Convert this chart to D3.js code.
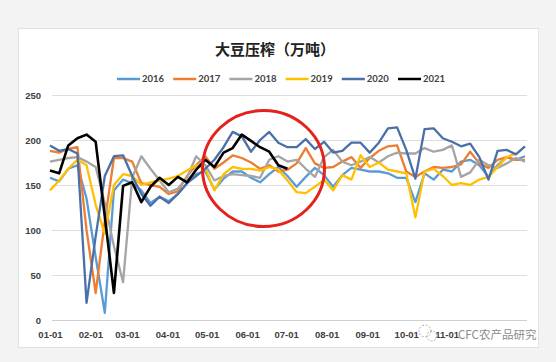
<!DOCTYPE html>
<html>
  <head>
    <meta charset="utf-8" />
    <title>大豆压榨（万吨）</title>
    <style>
      body{
        margin: 0;
        background: #f3f3f3;
        font-family: 'Lato', 'Noto Sans CJK SC', sans-serif;
      }
      .tick-label{
        font-size: 9.5px;
        font-weight: bold;
        fill: #404040;
      }
    </style>
  </head>
  <body>
    <script src="https://d3js.org/d3.v7.min.js"></script>
    <svg id="chart"></svg>
    <script>
      var width = 556;
      var height = 362;

      // weekly data, one array per year
      var years = ["2016", "2017", "2018", "2019", "2020", "2021"];
      var colors = ["#5b9bd5", "#ed7d31", "#a5a5a5", "#ffc000", "#4a6fa9", "#000000"];

      var s2016 = [158,154,168,172,135,70,8,144,156,152,144,130,137,132,140,152,162,165,145,157,165,165,158,153,162,170,160,148,159,169,161,148,161,169,167,165,165,163,158,158,131,163,156,167,165,176,178,172,159,172,181,178,182];
      var s2017 = [188,186,190,192,100,30,110,180,180,176,152,150,148,140,143,160,172,182,168,175,183,180,175,168,172,165,167,174,191,174,169,170,176,181,169,180,188,193,194,165,159,165,170,169,170,173,187,174,169,178,181,178,178];
      var s2018 = [176,178,180,181,176,170,130,82,42,158,182,168,155,142,146,158,182,172,155,160,162,161,160,158,178,182,176,178,168,159,181,189,176,172,176,181,175,182,186,185,185,191,187,189,194,159,164,178,172,169,174,180,176];
      var s2019 = [144,155,168,178,172,128,96,150,162,160,150,153,155,157,160,166,172,168,144,162,170,168,168,166,170,167,155,142,141,148,156,144,161,156,183,170,175,167,165,163,114,165,168,160,150,152,150,156,159,170,181,185];
      var s2020 = [194,188,190,185,19,93,160,182,183,160,140,127,137,130,140,152,160,168,178,192,209,204,187,200,209,197,192,192,201,190,198,186,188,197,197,186,197,213,214,189,157,212,213,202,198,193,196,181,156,188,189,184,193];
      var s2021 = [166,163,194,202,206,198,115,30,149,153,131,148,158,150,159,153,167,178,170,186,191,206,199,192,187,172,168];
      var allSeries = [s2016, s2017, s2018, s2019, s2020, s2021];

      var yTicks = [0, 50, 100, 150, 200, 250];
      // 12-01 is hidden under the watermark in the original
      var monthTicks = ["01-01","02-01","03-01","04-01","05-01","06-01","07-01","08-01","09-01","10-01","11-01"];

      var svg = d3.select("#chart")
        .attr("width", width)
        .attr("height", height)
        .style("display", "block");

      svg.append("rect")
        .attr("x", 18.5)
        .attr("y", 28.5)
        .attr("width", 520)
        .attr("height", 319)
        .attr("fill", "white")
        .attr("stroke", "#e2e2e2");

      var parse = d3.timeParse("%Y-%m-%d");
      var start = parse("2021-01-01");

      var x = d3.scaleTime()
        .domain([start, parse("2021-12-31")])
        .range([50, 525]);

      var y = d3.scaleLinear()
        .domain([0, 250])
        .range([320, 95]);

      // grid
      svg.append("g")
        .selectAll("line")
        .data(yTicks)
        .enter()
        .append("line")
        .attr("x1", 52)
        .attr("x2", 527)
        .attr("y1", function (d) { return Math.round(y(d)) + 0.5; })
        .attr("y2", function (d) { return Math.round(y(d)) + 0.5; })
        .attr("stroke", function (d) { return d === 0 ? "#cfcfcf" : "#dedede"; })
        .attr("stroke-width", 1);

      var yAxis = d3.axisLeft(y).tickValues(yTicks).tickSize(0).tickPadding(0);
      svg.append("g")
        .attr("transform", "translate(41,0)")
        .call(yAxis)
        .call(function (g) { g.select(".domain").remove(); })
        .selectAll("text")
        .attr("class", "tick-label")
        .attr("font-family", null)
        .attr("font-size", null);

      var monthDates = monthTicks.map(function (m) { return parse("2021-" + m); });
      var xAxis = d3.axisBottom(x)
        .tickValues(monthDates)
        .tickFormat(d3.timeFormat("%m-%d"))
        .tickSize(0)
        .tickPadding(0);
      svg.append("g")
        .attr("transform", "translate(0,331)")
        .call(xAxis)
        .call(function (g) { g.select(".domain").remove(); })
        .selectAll("text")
        .attr("class", "tick-label")
        .attr("font-family", null)
        .attr("font-size", null);

      // lines
      var line = d3.line()
        .x(function (d, i) { return x(d3.timeDay.offset(start, i * 7)); })
        .y(function (d) { return y(d); });

      svg.append("g")
        .selectAll("path")
        .data(allSeries)
        .enter()
        .append("path")
        .attr("d", line)
        .attr("fill", "none")
        .attr("stroke", function (d, i) { return colors[i]; })
        .attr("stroke-width", function (d, i) { return i === 5 ? 2.6 : 2.3; })
        .attr("stroke-linejoin", "round");

      // title
      svg.append("text")
        .attr("x", 275)
        .attr("y", 55)
        .attr("text-anchor", "middle")
        .attr("font-family", "'Noto Sans CJK SC', sans-serif")
        .attr("font-weight", "bold")
        .attr("font-size", 15)
        .attr("fill", "#222")
        .text("大豆压榨（万吨）");

      // legend
      var legend = svg.append("g")
        .selectAll("g")
        .data(years)
        .enter()
        .append("g")
        .attr("transform", function (d, i) { return "translate(" + (117 + i * 56.2) + ",79)"; });

      legend.append("line")
        .attr("x1", 0)
        .attr("x2", 23)
        .attr("stroke", function (d, i) { return colors[i]; })
        .attr("stroke-width", 2.5);

      legend.append("text")
        .attr("class", "tick-label")
        .attr("x", 25)
        .attr("dy", "0.35em")
        .text(function (d) { return d; });

      // red circle annotation
      svg.append("ellipse")
        .attr("cx", 263.5)
        .attr("cy", 168.5)
        .attr("rx", 61)
        .attr("ry", 58)
        .attr("fill", "none")
        .attr("stroke", "#e5211d")
        .attr("stroke-width", 3);

      // watermark
      var wm = svg.append("g");
      wm.append("circle")
        .attr("cx", 425)
        .attr("cy", 331)
        .attr("r", 6)
        .attr("fill", "none")
        .attr("stroke", "#b0b0b0")
        .attr("stroke-dasharray", "2,1.5");
      wm.append("circle")
        .attr("cx", 432)
        .attr("cy", 336)
        .attr("r", 5)
        .attr("fill", "none")
        .attr("stroke", "#b0b0b0")
        .attr("stroke-dasharray", "2,1.5");
      wm.append("text")
        .attr("x", 458)
        .attr("y", 339)
        .attr("font-family", "'Noto Sans CJK SC', sans-serif")
        .attr("font-size", 11.5)
        .attr("fill", "#8c8c8c")
        .attr("stroke", "white")
        .attr("stroke-width", 0.6)
        .attr("paint-order", "stroke")
        .text("CFC农产品研究");
    </script>
  </body>
</html>
